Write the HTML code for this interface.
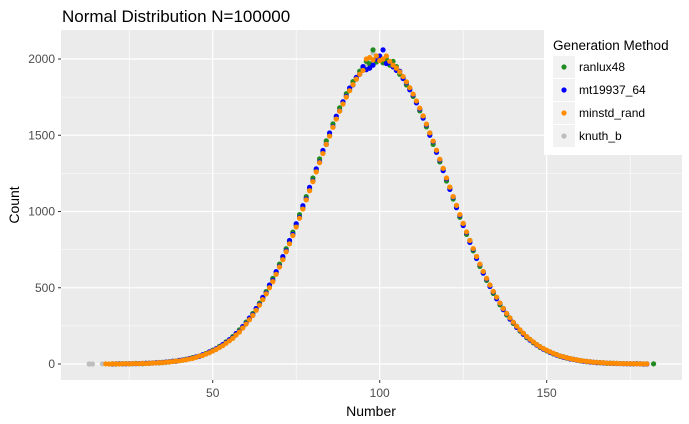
<!DOCTYPE html>
<html><head><meta charset="utf-8"><style>
body{margin:0;background:#fff;}
svg{display:block;font-family:"Liberation Sans",Arial,sans-serif;}
</style></head><body>
<svg id="chart" width="689" height="424" viewBox="0 0 689 424" xmlns="http://www.w3.org/2000/svg">
<rect width="689" height="424" fill="#fff"/>
<text x="62" y="22" font-size="17" fill="#000">Normal Distribution N=100000</text>
<rect x="61" y="30" width="621" height="350" fill="#ebebeb"/>
<g id="grid"></g>
<g id="points"></g>
<g id="axes"></g>
<text x="371" y="416" font-size="14" text-anchor="middle" fill="#000">Number</text>
<text transform="translate(19,205) rotate(-90)" font-size="14" text-anchor="middle" fill="#000">Count</text>
<g id="legend"></g>
</svg>
<script>
const seriesNames=["ranlux48","mt19937_64","minstd_rand","knuth_b"];
const seriesColors=["#228B22","#0000FF","#FF8C00","#BEBEBE"];
const xStart=20;
const ranlux48=[1,0,2,1,3,1,2,4,3,2,5,4,7,8,8,11,12,15,17,20,23,25,31,34,42,45,53,58,70,77,90,97,115,124,145,157,180,196,224,241,275,296,331,357,399,428,475,507,562,596,655,690,756,796,865,906,980,1022,1098,1142,1220,1266,1345,1385,1463,1498,1575,1610,1680,1708,1772,1795,1852,1868,1920,1942,1985,1968,2060,1980,2010,1975,2000,1960,1985,1950,1900,1880,1830,1810,1755,1720,1660,1625,1555,1515,1440,1400,1325,1280,1200,1158,1082,1038,962,920,850,810,742,704,640,606,548,518,463,437,388,365,322,302,266,247,216,201,173,161,139,128,109,101,86,80,66,62,50,48,38,36,29,27,21,20,15,15,11,11,8,8,5,6,4,4,3,3,2,2,1,3,1,0,1];
const mt19937_64=[0,1,1,2,1,2,3,2,3,4,4,6,6,8,10,10,13,14,18,18,24,27,29,36,38,47,50,61,66,80,86,100,110,128,140,160,172,200,214,246,266,302,322,364,390,437,465,518,548,606,640,704,742,810,850,920,962,1038,1082,1158,1200,1280,1325,1400,1440,1515,1555,1625,1660,1720,1755,1810,1830,1880,1900,1950,1930,1940,1960,2000,2020,2060,1970,1975,1948,1925,1920,1872,1845,1798,1765,1712,1672,1612,1568,1500,1458,1388,1338,1268,1215,1145,1095,1025,975,908,862,797,753,692,652,596,558,508,473,428,398,356,330,294,272,240,222,195,178,156,143,124,113,97,89,76,69,58,53,44,41,33,31,25,23,18,17,13,12,9,9,6,6,4,4,3,3,2,2,1,2,1,1,0,0];
const minstd_rand=[1,1,0,2,2,1,3,3,2,4,3,5,6,7,9,9,12,13,16,19,21,25,28,33,37,44,52,56,66,74,85,95,108,120,136,152,168,190,210,236,262,290,318,352,386,422,460,500,540,588,636,684,736,788,842,898,956,1016,1076,1136,1196,1260,1320,1380,1440,1494,1552,1606,1658,1705,1750,1792,1832,1868,1900,1925,2000,2010,1995,2020,1990,2000,2020,1985,1960,1940,1915,1885,1850,1812,1770,1725,1678,1627,1573,1515,1462,1402,1343,1283,1220,1160,1098,1040,980,922,866,810,757,705,655,607,562,518,476,438,400,364,332,302,274,248,224,202,180,162,145,128,114,101,90,80,70,61,53,47,41,36,31,27,23,20,17,15,12,11,9,8,6,5,5,4,3,3,2,2,2,1,1,1,1];
const knuth_b=[0,1,1,1,2,2,2,3,3,3,4,5,7,7,9,10,12,14,16,19,22,26,30,35,40,46,52,60,68,78,88,99,112,126,142,159,177,198,220,244,270,298,328,360,395,432,470,512,555,600,648,697,749,802,857,913,971,1030,1090,1150,1210,1274,1334,1393,1453,1506,1564,1618,1669,1716,1761,1802,1841,1876,1907,1934,1955,1973,2040,2000,1995,1992,1985,1973,1955,1934,1907,1876,1841,1802,1761,1716,1669,1618,1564,1506,1453,1393,1334,1274,1210,1150,1090,1030,971,913,857,802,749,697,648,600,555,512,470,432,395,360,328,298,270,244,220,198,177,159,142,126,112,99,88,78,68,60,52,46,40,35,30,26,22,19,16,14,12,10,9,7,6,5,4,3,3,3,2,2,2,1,1,1,1];
const ranlux48TailX=[182];
const ranlux48TailY=[1];
const mt19937_64TailX=[];
const mt19937_64TailY=[];
const minstd_randTailX=[18,19];
const minstd_randTailY=[1,0];
const knuth_bTailX=[13,14,17];
const knuth_bTailY=[0,0,1];
const xTicks=[50,100,150];
const yTicks=[0,500,1000,1500,2000];

const NS="http://www.w3.org/2000/svg";
function xs(v){return 45.7+v*3.34;}
function ys(v){return 364-v*305/2000;}
function mk(tag,attrs,parent){const e=document.createElementNS(NS,tag);for(const k in attrs)e.setAttribute(k,attrs[k]);parent.appendChild(e);return e;}
const grid=document.getElementById('grid');
[25,75,125,175].forEach(v=>{const l=mk('line',{x1:xs(v),x2:xs(v),y1:30,y2:380,stroke:'#fff','stroke-width':0.6},grid);

});
[250,750,1250,1750].forEach(v=>{const l=mk('line',{x1:61,x2:682,y1:ys(v),y2:ys(v),stroke:'#fff','stroke-width':0.6},grid);

});
const axes=document.getElementById('axes');
xTicks.forEach(v=>{const l=mk('line',{x1:xs(v),x2:xs(v),y1:30,y2:380,stroke:'#fff','stroke-width':1.2},grid);


const t=mk('line',{x1:xs(v),x2:xs(v),y1:380,y2:383,stroke:'#333','stroke-width':1},axes);


const tx=mk('text',{x:xs(v),y:397,'font-size':12,'text-anchor':'middle',fill:'#4d4d4d'},axes);tx.textContent=v;

});
yTicks.forEach(v=>{const l=mk('line',{x1:61,x2:682,y1:ys(v),y2:ys(v),stroke:'#fff','stroke-width':1.2},grid);


const t=mk('line',{x1:58,x2:61,y1:ys(v),y2:ys(v),stroke:'#333','stroke-width':1},axes);


const tx=mk('text',{x:55,y:ys(v)+4,'font-size':12,'text-anchor':'end',fill:'#4d4d4d'},axes);tx.textContent=v;

});
const pts=document.getElementById('points');
const series=[
 {name:'knuth_b',c:seriesColors[3],d:knuth_b,tx:knuth_bTailX,ty:knuth_bTailY},
 {name:'ranlux48',c:seriesColors[0],d:ranlux48,tx:ranlux48TailX,ty:ranlux48TailY},
 {name:'mt19937_64',c:seriesColors[1],d:mt19937_64,tx:mt19937_64TailX,ty:mt19937_64TailY},
 {name:'minstd_rand',c:seriesColors[2],d:minstd_rand,tx:minstd_randTailX,ty:minstd_randTailY}];
series.forEach(s=>{
 const g=mk('g',{},pts);
 
 
 const add=(x,y)=>{const c=mk('circle',{cx:xs(x),cy:ys(y),r:2.6,fill:s.c},g);
  
  };
 s.d.forEach((v,i)=>add(xStart+i,v));
 s.tx.forEach((x,i)=>add(x,s.ty[i]));
});
const lg=document.getElementById('legend');
const bg=mk('rect',{x:544,y:30,width:145,height:125,fill:'#fff'},lg);


const lt=mk('text',{x:553,y:50,'font-size':13.5,fill:'#000'},lg);lt.textContent='Generation Method';


seriesNames.forEach((n,i)=>{
 const y0=56+i*23;
 const g=mk('g',{},lg);
 
 
 mk('rect',{x:553,y:y0,width:22,height:22,fill:'#f2f2f2'},g);
 mk('circle',{cx:564,cy:y0+11,r:2.6,fill:seriesColors[i]},g);
 const t=mk('text',{x:579,y:y0+15,'font-size':12,fill:'#000'},g);t.textContent=n;
});
</script>
</body></html>
